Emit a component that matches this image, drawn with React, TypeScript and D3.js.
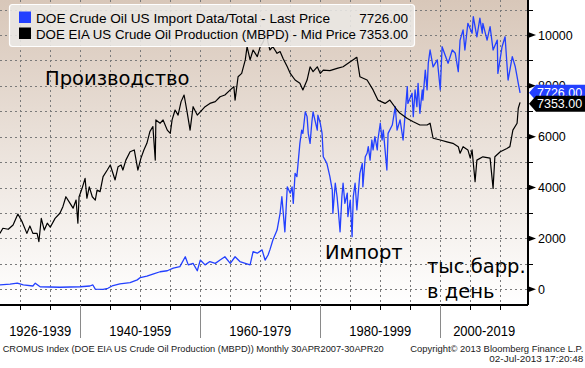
import * as d3 from "d3";

const WIDTH = 585;
const HEIGHT = 368;
const PLOT = { left: 0, right: 528, top: 0, bottom: 305 };

// US crude oil imports, thousand barrels per day (blue)
const importSeries: [number, number][] = [
  [1926.6, 170], [1928.3, 200], [1929.5, 240], [1930.5, 170], [1932.1, 130],
  [1932.5, 240], [1933.3, 100], [1936.6, 80], [1940.0, 100], [1941.6, 130],
  [1942.1, 170], [1942.5, 10], [1943.8, 0], [1944.6, 40], [1945.3, 130],
  [1946.6, 210], [1948.3, 260], [1949.5, 370], [1950.0, 460], [1951.1, 520],
  [1952.1, 600], [1953.3, 690], [1954.5, 730], [1955.5, 830], [1956.6, 890],
  [1957.5, 1280], [1958.0, 960], [1958.8, 1020], [1959.5, 730], [1960.0, 1150],
  [1960.8, 960], [1961.6, 1090], [1962.5, 1020], [1963.3, 1150], [1964.1, 1280],
  [1965.0, 1020], [1965.8, 1280], [1966.6, 1090], [1967.5, 1020], [1968.3, 960],
  [1968.8, 1480], [1969.5, 1420], [1970.3, 1550], [1970.8, 1150], [1971.3, 1350],
  [1971.6, 1550], [1972.1, 1940], [1972.8, 2330], [1973.3, 2990], [1973.6, 3640],
  [1974.1, 2260], [1974.5, 4030], [1975.0, 3780], [1975.3, 4030], [1975.5, 3380],
  [1975.8, 4560], [1976.1, 4430], [1976.3, 4950], [1976.6, 5740], [1976.9, 6260],
  [1977.1, 6130], [1977.5, 6980], [1977.8, 6790], [1978.0, 6130], [1978.3, 5740],
  [1978.6, 6590], [1978.8, 6980], [1979.1, 6660], [1979.5, 6260], [1979.6, 6850],
  [1980.0, 6530], [1980.3, 6130], [1980.5, 5210], [1981.1, 4950], [1981.6, 4430],
  [1982.0, 3900], [1982.1, 2990], [1982.5, 4170], [1982.8, 3640], [1983.0, 3120],
  [1983.3, 2260], [1983.6, 3640], [1983.8, 4170], [1984.1, 3380], [1984.5, 3780],
  [1984.6, 2860], [1985.0, 3510], [1985.3, 2070], [1985.5, 3640], [1985.8, 4170],
  [1986.1, 3120], [1986.6, 4560], [1987.0, 4950], [1987.1, 4030], [1987.5, 5210],
  [1987.8, 5350], [1988.0, 5610], [1988.3, 5080], [1988.6, 5870], [1988.8, 5480],
  [1989.1, 6000], [1989.5, 5480], [1989.6, 5870], [1990.0, 6530], [1990.3, 5870],
  [1990.5, 6260], [1991.1, 4690], [1991.3, 6130], [1992.0, 6460], [1992.5, 7180],
  [1992.8, 6260], [1993.3, 6660], [1993.8, 5870], [1994.5, 7970], [1994.6, 7310],
  [1995.3, 7710], [1995.5, 6790], [1995.8, 7840], [1996.1, 7180], [1996.3, 8100],
  [1996.6, 6920], [1997.0, 7840], [1997.1, 7440], [1997.5, 8620], [1997.8, 7840],
  [1998.0, 8890], [1998.3, 9410], [1998.8, 8750], [1999.5, 9020], [2000.0, 7840],
  [2000.3, 9540], [2000.8, 9210], [2001.3, 8890], [2002.0, 9410], [2002.5, 9280],
  [2003.0, 8560], [2003.3, 9800], [2003.8, 10200], [2004.1, 9410], [2004.6, 10460],
  [2005.3, 10070], [2005.5, 10720], [2006.1, 9930], [2006.6, 10660], [2007.0, 10070],
  [2007.1, 10460], [2007.8, 9800], [2008.3, 10330], [2008.8, 9410], [2009.5, 9800],
  [2009.6, 8490], [2010.3, 9540], [2010.8, 9930], [2011.1, 8890], [2011.3, 8230],
  [2012.0, 9150], [2012.5, 8750], [2012.8, 8360], [2013.0, 8100], [2013.3, 7726],
];

// US crude oil production, thousand barrels per day (black)
const productionSeries: [number, number][] = [
  [1926.6, 2200], [1927.1, 2400], [1928.0, 2360], [1928.8, 2530], [1929.6, 2960],
  [1930.3, 2660], [1931.1, 2200], [1931.6, 2490], [1932.1, 2200], [1932.8, 2200],
  [1933.1, 1870], [1933.5, 2790], [1934.0, 2330], [1934.5, 2600], [1935.0, 2440],
  [1935.8, 2790], [1936.6, 2990], [1937.1, 3250], [1937.6, 3640], [1938.3, 3380],
  [1938.8, 3190], [1939.3, 3510], [1939.6, 2600], [1939.8, 3640], [1940.3, 3970],
  [1940.8, 4360], [1941.1, 3580], [1941.5, 4030], [1942.0, 3640], [1942.5, 3510],
  [1942.8, 3900], [1943.3, 3840], [1943.8, 4430], [1944.5, 4690], [1945.0, 4890],
  [1945.8, 4300], [1946.3, 4820], [1946.8, 4890], [1947.1, 4690], [1947.6, 5080],
  [1948.3, 5410], [1949.0, 5480], [1949.6, 4690], [1950.1, 5150], [1950.6, 5480],
  [1951.1, 5740], [1951.6, 6200], [1952.1, 6400], [1952.5, 5080], [1952.6, 6660],
  [1953.3, 6530], [1953.8, 6660], [1954.5, 6260], [1955.0, 6130], [1955.3, 6660],
  [1955.8, 7050], [1956.3, 6850], [1956.8, 7380], [1957.3, 7640], [1957.8, 6980],
  [1958.3, 6260], [1958.8, 7180], [1959.5, 6850], [1960.0, 6980], [1960.8, 7180],
  [1961.6, 7310], [1962.5, 7380], [1963.3, 7570], [1964.1, 7640], [1965.0, 7840],
  [1965.6, 7970], [1965.8, 7440], [1966.3, 8360], [1966.9, 8490], [1967.5, 9020],
  [1967.8, 9540], [1968.3, 9020], [1968.8, 9410], [1969.5, 9150], [1970.0, 9540],
  [1970.5, 9740], [1971.0, 10080], [1971.3, 9700], [1971.6, 9410], [1972.1, 9540],
  [1972.8, 9280], [1973.3, 9350], [1973.8, 9080], [1974.5, 8750], [1975.0, 8490],
  [1975.8, 8230], [1976.6, 8100], [1977.1, 7840], [1977.8, 8230], [1978.3, 8750],
  [1978.8, 8560], [1979.5, 8750], [1980.0, 8490], [1980.5, 8620], [1981.6, 8600],
  [1982.8, 8690], [1983.8, 8750], [1985.0, 8950], [1985.8, 9080], [1986.1, 9120],
  [1986.6, 8360], [1987.8, 8230], [1988.8, 7840], [1989.6, 7440], [1990.8, 7310],
  [1991.6, 7440], [1992.8, 7050], [1993.3, 6920], [1994.5, 6720], [1995.5, 6590],
  [1996.6, 6460], [1997.8, 6460], [1998.3, 6530], [1998.8, 5940], [2000.0, 5870],
  [2001.1, 5800], [2002.1, 5740], [2003.0, 5610], [2003.3, 5350], [2003.8, 5610],
  [2004.6, 5480], [2005.0, 5160], [2005.3, 5480], [2005.8, 4230], [2006.1, 5080],
  [2007.1, 5210], [2008.3, 5160], [2008.8, 3970], [2009.1, 5210], [2010.0, 5410],
  [2011.1, 5540], [2011.6, 5610], [2012.1, 6260], [2012.8, 6530], [2013.0, 7120],
  [2013.3, 7353],
];

const legendNames = [
  "DOE Crude Oil US Import Data/Total - Last Price",
  "DOE EIA US Crude Oil Production (MBPD) - Mid Price",
];
const legendWidths = [294, 320];
const lastValues = [7726, 7353];
const seriesColors = ["#2340ff", "#000000"];

const periodBreaks = [1940, 1960, 1980, 2000];
const periodLabels = ["1926-1939", "1940-1959", "1960-1979", "1980-1999", "2000-2019"];
const yLabelTicks = [0, 2000, 4000, 6000, 8000, 10000];

const FONT = "'Liberation Sans', Arial, sans-serif";
const RU_FONT = "'DejaVu Sans', Verdana, sans-serif";

export default function App() {
  const xScale = d3.scaleLinear().domain([1926.62, 2014.62]).range([PLOT.left, PLOT.right]);
  const yScale = d3.scaleLinear().domain([0, 10000]).range([289.3, 35]);

  const line = d3
    .line<[number, number]>()
    .x(([x]) => xScale(x))
    .y(([, y]) => yScale(y));

  const gridYears = d3.range(1930, 2011, 5);
  const gridValues = d3.range(0, 11001, 1000);
  const bounds = [xScale.domain()[0], ...periodBreaks, xScale.domain()[1]];

  return (
    <svg
      width={WIDTH}
      height={HEIGHT}
      style={{ position: "absolute", left: 0, top: 0, background: "#fff" }}
    >
      <defs>
        <linearGradient id="bg" x1="0" y1="0" x2="0" y2="1">
          <stop offset="0%" stopColor="#d8c7b9" />
          <stop offset="100%" stopColor="#ffffff" />
        </linearGradient>
      </defs>

      <rect x={PLOT.left} y={PLOT.top} width={PLOT.right - PLOT.left} height={PLOT.bottom - PLOT.top} fill="url(#bg)" />

      {/* dotted grid */}
      <g stroke="#7a7a7a" strokeWidth={1} strokeDasharray="2,3" shapeRendering="crispEdges">
        {gridYears.map((yr) => (
          <line key={yr} x1={Math.round(xScale(yr)) + 0.5} x2={Math.round(xScale(yr)) + 0.5} y1={PLOT.top} y2={PLOT.bottom} />
        ))}
        {gridValues.map((v) => (
          <line key={v} x1={PLOT.left} x2={PLOT.right} y1={Math.round(yScale(v)) + 0.5} y2={Math.round(yScale(v)) + 0.5} />
        ))}
      </g>

      {/* series */}
      <path d={line(importSeries) ?? undefined} fill="none" stroke={seriesColors[0]} strokeWidth={1.3} strokeLinejoin="round" />
      <path d={line(productionSeries) ?? undefined} fill="none" stroke={seriesColors[1]} strokeWidth={1.2} strokeLinejoin="round" />

      {/* annotations */}
      <g fontFamily={RU_FONT} fontSize={19.5} fill="#000">
        <text x={45} y={85}>Производство</text>
        <text x={325} y={259}>Импорт</text>
        <text x={427} y={272.5}>тыс.барр.</text>
        <text x={427} y={298}>в день</text>
      </g>

      {/* legend */}
      <rect x={9.5} y={4.5} width={405} height={42} rx={3} fill="#ebe8e5" fillOpacity={0.88} stroke="#ffffff" strokeWidth={1.2} />
      {legendNames.map((name, i) => (
        <g key={name}>
          <rect x={19} y={11.5 + i * 16} width={12} height={11.5} fill={seriesColors[i]} />
          <text
            x={36}
            y={22.5 + i * 16}
            fontFamily={FONT}
            fontSize={13.5}
            fill="#000"
            textLength={legendWidths[i]}
            lengthAdjust="spacingAndGlyphs"
          >
            {name}
          </text>
          <text x={408} y={22.5 + i * 16} fontFamily={FONT} fontSize={13.5} fill="#000" textAnchor="end">
            {lastValues[i].toFixed(2)}
          </text>
        </g>
      ))}

      {/* axes */}
      <g stroke="#000" strokeWidth={1.2} shapeRendering="crispEdges">
        <line x1={PLOT.left} x2={PLOT.right} y1={PLOT.bottom} y2={PLOT.bottom} />
        <line x1={PLOT.right} x2={PLOT.right} y1={PLOT.top} y2={PLOT.bottom} />
        {gridYears.map((yr) => (
          <line key={yr} x1={Math.round(xScale(yr)) + 0.5} x2={Math.round(xScale(yr)) + 0.5} y1={PLOT.bottom} y2={PLOT.bottom + 5} />
        ))}
        {gridValues
          .filter((v) => v % 2000 !== 0)
          .map((v) => (
            <line key={v} x1={PLOT.right} x2={PLOT.right + 5} y1={Math.round(yScale(v)) + 0.5} y2={Math.round(yScale(v)) + 0.5} />
          ))}
      </g>
      {periodBreaks.map((yr) => (
        <line key={yr} x1={Math.round(xScale(yr)) + 0.5} x2={Math.round(xScale(yr)) + 0.5} y1={PLOT.bottom} y2={338} stroke="#8a8a8a" strokeWidth={1} shapeRendering="crispEdges" />
      ))}
      {periodLabels.map((label, i) => (
        <text
          key={label}
          x={(xScale(bounds[i]) + xScale(bounds[i + 1])) / 2}
          y={336}
          fontFamily={FONT}
          fontSize={14.5}
          textAnchor="middle"
          textLength={62}
          lengthAdjust="spacingAndGlyphs"
          fill="#000"
        >
          {label}
        </text>
      ))}

      {yLabelTicks.map((v) => (
        <g key={v} transform={`translate(${PLOT.right}, ${yScale(v)})`}>
          <path d="M0,-3L8,0L0,3Z" fill="#000" />
          <text x={10} y={4.5} fontFamily={FONT} fontSize={12.5} fill="#000">{v}</text>
        </g>
      ))}

      {/* last value tags */}
      {lastValues.map((v, i) => {
        const cy = yScale(v) + (i === 1 ? 1.5 : 0);
        return (
          <g key={i}>
            <path
              d={`M${PLOT.right + 1},${cy}L${PLOT.right + 8},${cy - 8}L${WIDTH},${cy - 8}L${WIDTH},${cy + 8}L${PLOT.right + 8},${cy + 8}Z`}
              fill={seriesColors[i]}
            />
            <text x={537} y={cy + 4.5} fontFamily={FONT} fontSize={12.5} fill="#fff">{v.toFixed(2)}</text>
          </g>
        );
      })}

      {/* footer */}
      <g fontFamily={FONT} fontSize={9} fill="#1a1a1a">
        <text x={2.7} y={351.5} textLength={381} lengthAdjust="spacingAndGlyphs">
          CROMUS Index (DOE EIA US Crude Oil Production (MBPD))  Monthly 30APR2007-30APR20
        </text>
        <text x={583.3} y={351.5} textAnchor="end" textLength={173} lengthAdjust="spacingAndGlyphs">
          Copyright© 2013 Bloomberg Finance L.P.
        </text>
        <text x={583.3} y={362} textAnchor="end" textLength={94} lengthAdjust="spacingAndGlyphs">
          02-Jul-2013 17:20:48
        </text>
      </g>
    </svg>
  );
}
